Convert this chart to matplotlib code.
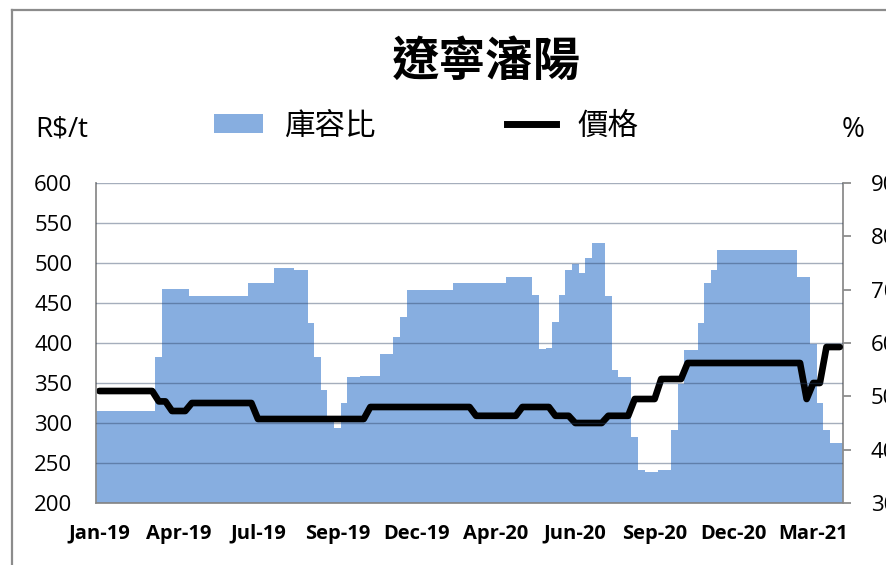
import numpy as np
import matplotlib
matplotlib.use('Agg')
from matplotlib import pyplot as plt
from matplotlib.patches import Patch
from matplotlib.lines import Line2D

title = '遼寧瀋陽'
bar_name = '庫容比'
line_name = '價格'

# weekly series, Jan-19 .. Apr-21
storage = [47.3, 47.3, 47.3, 47.3, 47.3, 47.3, 47.3, 47.3, 47.3, 57.4,
           70.1, 70.1, 70.1, 70.1, 68.8, 68.8, 68.8, 68.8, 68.8, 68.8,
           68.8, 68.8, 68.8, 71.2, 71.2, 71.2, 71.2, 74.0, 74.0, 74.0,
           73.7, 73.7, 63.7, 57.4, 51.2, 45.5, 44.0, 48.7, 53.7, 53.7,
           53.8, 53.8, 53.8, 57.9, 57.9, 61.2, 64.9, 69.9, 69.9, 69.9,
           69.9, 69.9, 69.9, 69.9, 71.2, 71.2, 71.2, 71.2, 71.2, 71.2,
           71.3, 71.3, 72.4, 72.4, 72.4, 72.4, 69.0, 58.8, 59.0, 64.0,
           69.0, 73.7, 74.9, 73.1, 75.9, 78.7, 78.7, 68.8, 54.9, 53.7,
           53.7, 42.4, 36.2, 35.9, 35.9, 36.2, 36.2, 43.7, 52.4, 58.7,
           58.7, 63.7, 71.2, 73.7, 77.4, 77.4, 77.4, 77.4, 77.4, 77.4,
           77.4, 77.4, 77.4, 77.4, 77.4, 77.4, 72.4, 72.4, 59.9, 48.7,
           43.7, 41.2, 41.2]

price = [340, 340, 340, 340, 340, 340, 340, 340, 340, 327,
         327, 315, 315, 315, 325, 325, 325, 325, 325, 325,
         325, 325, 325, 325, 305, 305, 305, 305, 305, 305,
         305, 305, 305, 305, 305, 305, 305, 305, 305, 305,
         305, 320, 320, 320, 320, 320, 320, 320, 320, 320,
         320, 320, 320, 320, 320, 320, 320, 309, 309, 309,
         309, 309, 309, 309, 320, 320, 320, 320, 320, 309,
         309, 309, 300, 300, 300, 300, 300, 309, 309, 309,
         309, 330, 330, 330, 330, 355, 355, 355, 355, 375,
         375, 375, 375, 375, 375, 375, 375, 375, 375, 375,
         375, 375, 375, 375, 375, 375, 375, 330, 350, 350,
         395, 395, 395]

tick_labels = ['Jan-19', 'Apr-19', 'Jul-19', 'Sep-19', 'Dec-19',
               'Apr-20', 'Jun-20', 'Sep-20', 'Dec-20', 'Mar-21']

blue = '#87aee0'
grey = '#8c8c8c'
cjk = ['Noto Sans CJK TC', 'DejaVu Sans']
num = ['Open Sans', 'DejaVu Sans']

W, H = 887, 565
fig = plt.figure(figsize=(W / 100, H / 100), dpi=100)
ax = fig.add_axes([96 / W, 1 - 503 / H, 747 / W, 320 / H])
ax2 = ax.twinx()
ax.set_zorder(ax2.get_zorder() + 1)
ax.patch.set_visible(False)

x = np.arange(len(storage))
ax2.bar(x, storage, width=1.0, color=blue, linewidth=0)
ax2.set_ylim(30, 90)
ax2.set_yticks(range(30, 91, 10))

ax.plot(x, price, color='black', lw=4.8, solid_joinstyle='round',
        solid_capstyle='round')
ax.set_ylim(200, 600)
ax.set_yticks(range(200, 601, 50))
ax.set_xlim(-0.5, len(storage) - 0.5)
ax.set_xticks(x[::12][:len(tick_labels)])
ax.set_xticklabels(tick_labels)
ax.grid(axis='y', color='#2a3f60', alpha=0.42, lw=1.0)
ax.set_axisbelow(False)

for s in ['top', 'right']:
    ax.spines[s].set_visible(False)
for s in ['top', 'left', 'bottom']:
    ax2.spines[s].set_visible(False)
for sp in [ax.spines['left'], ax.spines['bottom'], ax2.spines['right']]:
    sp.set_color(grey)
    sp.set_linewidth(1.3)

ax.tick_params(axis='y', length=0, pad=17, labelsize=16)
ax.tick_params(axis='x', length=0, pad=15, labelsize=14.5)
ax2.tick_params(axis='y', length=6, color=grey, width=1.3, pad=14, labelsize=16)
for t in ax.get_yticklabels() + ax2.get_yticklabels():
    t.set_family(num)
for t in ax.get_xticklabels():
    t.set_family(num)
    t.set_fontweight('bold')

# chart frame (left and top edge visible)
fig.add_artist(Line2D([12 / W, 12 / W], [0, 1 - 10 / H], color=grey, lw=1.6))
fig.add_artist(Line2D([12 / W, 1], [1 - 10 / H, 1 - 10 / H], color=grey, lw=1.6))

fig.text(486 / W, 1 - 62 / H, title, ha='center', va='center', fontsize=34,
         fontweight='bold', family=cjk)
fig.text(35 / W, 1 - 130 / H, 'R$/t', ha='left', va='center', fontsize=20,
         family=num)
fig.text(853 / W, 1 - 130 / H, '%', ha='center', va='center', fontsize=20,
         family=num)

handles = [Patch(facecolor=blue, edgecolor='none'),
           Line2D([], [], color='black', lw=5)]
fig.legend(handles, [bar_name, line_name], ncol=2, loc='center',
           bbox_to_anchor=(426 / W, 1 - 126 / H), frameon=False,
           prop={'family': cjk, 'size': 22}, handlelength=1.6,
           handleheight=0.6, handletextpad=0.7, columnspacing=4.3)

fig.savefig('out.png', dpi=100)
